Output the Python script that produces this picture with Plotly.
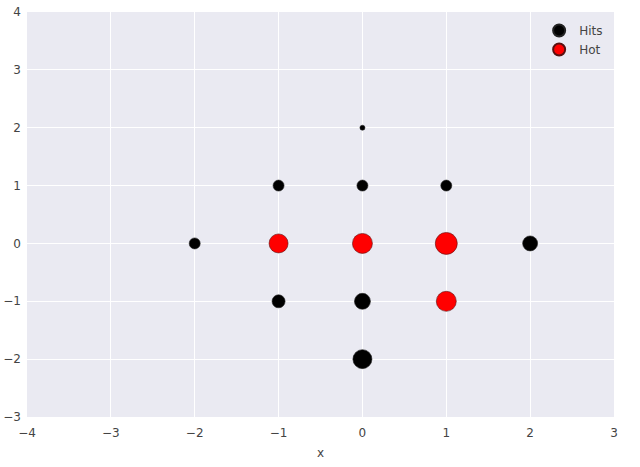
import plotly.graph_objects as go

# hits: grid positions and marker diameters (px)
hits_x = [0, -1, 0, 1, -2, 2, -1, 0, 0]
hits_y = [2, 1, 1, 1, 0, 0, -1, -1, -2]
hits_size = [5, 11, 11, 11, 11, 15, 13, 16, 19]

# hot cells
hot_x = [-1, 0, 1, 1]
hot_y = [0, 0, 0, -1]
hot_size = [19, 20, 22, 20]

x_ticks = [-4, -3, -2, -1, 0, 1, 2, 3]
y_ticks = [-3, -2, -1, 0, 1, 2, 3, 4]

fig = go.Figure()
fig.add_trace(go.Scatter(
    x=hits_x, y=hits_y, mode="markers", name="Hits",
    marker=dict(color="black", size=hits_size, opacity=1, line=dict(color="#222", width=0.6)),
))
fig.add_trace(go.Scatter(
    x=hot_x, y=hot_y, mode="markers", name="Hot",
    marker=dict(color="red", size=hot_size, opacity=1, line=dict(color="#5a1010", width=0.6)),
))

axis_style = dict(
    showgrid=True, gridcolor="white", gridwidth=1.2, zeroline=False,
    showline=False, ticks="", automargin=False,
    tickfont=dict(size=12, color="#444"),
)
fig.update_layout(
    width=640, height=467,
    margin=dict(l=27, r=26, t=12, b=50),
    paper_bgcolor="white", plot_bgcolor="#EAEAF2",
    font=dict(family="DejaVu Sans", color="#444"),
    showlegend=True,
    legend=dict(x=0.99, y=0.99, xanchor="right", yanchor="top",
                bgcolor="rgba(0,0,0,0)", itemsizing="constant",
                font=dict(size=12, color="#444")),
    xaxis=dict(range=[-4, 3], tickvals=x_ticks, ticklabelstandoff=7,
               title=dict(text="x", font=dict(size=12), standoff=9), **axis_style),
    yaxis=dict(range=[-3, 4], tickvals=y_ticks, ticklabelstandoff=5, **axis_style),
)

# the page's default body margin would shift the figure by 8px
fig.write_html("out.html", config={"displayModeBar": False},
               post_script="document.body.style.margin='0';")
